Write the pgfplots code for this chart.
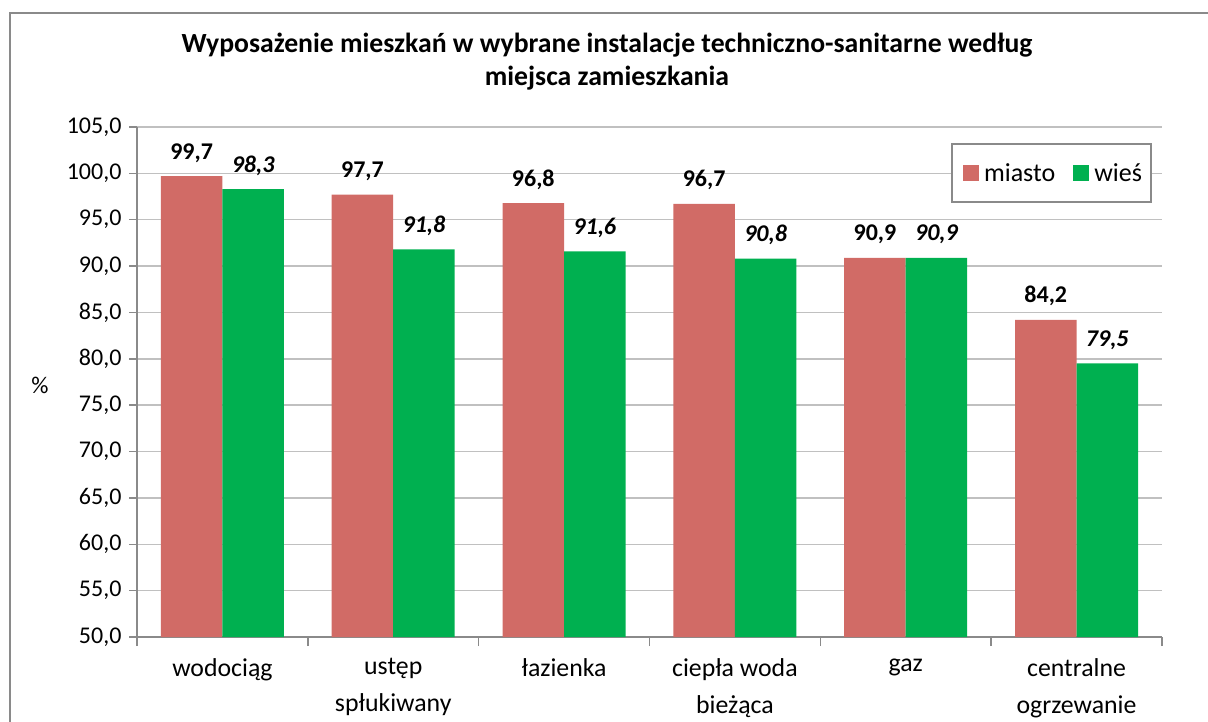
\documentclass[border=0pt]{standalone}
\usepackage{fontspec}
\setmainfont{Carlito}
\usepackage{pgfplots}
\pgfplotsset{compat=1.18}
\definecolor{miasto}{HTML}{D16B66}
\definecolor{wies}{HTML}{00B050}
\definecolor{axgray}{HTML}{8A8A8A}
\definecolor{gridgray}{HTML}{C0C0C0}
\begin{document}
\begin{tikzpicture}
\useasboundingbox (0,0) rectangle (1208pt,-722pt);
\draw[axgray, line width=1.5pt] (10pt,-760pt) -- (10pt,-13pt) -- (1240pt,-13pt);
\begin{axis}[
  at={(137pt,-637pt)}, anchor=south west,
  scale only axis, width=1025pt, height=510pt,
  ybar=0pt, bar width=61.5pt,
  xmin=-0.5, xmax=5.5, ymin=50, ymax=105,
  ytick={50,55,...,105},
  xtick={0,...,5},
  xticklabels={wodociąg,{ustęp\\spłukiwany},łazienka,{ciepła woda\\bieżąca},gaz,{centralne\\ogrzewanie}},
  x tick label style={align=center, font=\fontsize{25.8}{37}\selectfont, yshift=-10pt},
  y tick label style={font=\fontsize{24}{28}\selectfont, xshift=-4pt},
  /pgf/number format/assume math mode=true,
  yticklabel style={/pgf/number format/fixed, /pgf/number format/fixed zerofill, /pgf/number format/precision=1, /pgf/number format/use comma},
  axis x line*=bottom, axis y line*=left,
  axis line style={axgray, line width=1.5pt},
  tick align=outside,
  xtick style={draw=none},
  ytick style={axgray, line width=1.5pt},
  major tick length=8pt,
  extra x ticks={-0.5,0.5,1.5,2.5,3.5,4.5,5.5},
  extra x tick labels={},
  extra x tick style={grid=none, major tick length=9pt, xtick style={draw=axgray, line width=1.5pt}},
  ymajorgrids, grid style={gridgray, line width=1.5pt},
  nodes near coords,
  every node near coord/.append style={/pgf/number format/fixed, /pgf/number format/fixed zerofill, /pgf/number format/precision=1, /pgf/number format/use comma, anchor=base, yshift=17pt, font=\fontsize{24}{28}\selectfont\bfseries, text=black},
  legend columns=2,
  legend style={at={(0.990,0.9686)}, anchor=north east, draw=axgray, line width=1.5pt,
    font=\fontsize{26}{30}\selectfont, inner xsep=7pt, inner ysep=17.5pt,
    /tikz/every odd column/.append style={column sep=3pt},
    /tikz/every even column/.append style={column sep=12pt}},
  legend image code/.code={\path (0pt,0pt); \fill[#1,draw=none] (4pt,-8pt) rectangle (20pt,8pt);},
]
\addplot[fill=miasto, draw=none] coordinates {(0,99.7) (1,97.7) (2,96.8) (3,96.7) (4,90.9) (5,84.2)};
\addplot[fill=wies, draw=none, every node near coord/.append style={font=\fontsize{24}{28}\selectfont\bfseries\itshape}] coordinates {(0,98.3) (1,91.8) (2,91.6) (3,90.8) (4,90.9) (5,79.5)};
\legend{miasto,wieś}
\end{axis}
\node[font=\fontsize{27.7}{33}\selectfont\bfseries, align=center] at (607pt,-62pt) {Wyposażenie mieszkań w wybrane instalacje techniczno-sanitarne według\\miejsca zamieszkania};
\node[font=\fontsize{24}{28}\selectfont] at (40pt,-385pt) {\%};
\end{tikzpicture}
\end{document}
